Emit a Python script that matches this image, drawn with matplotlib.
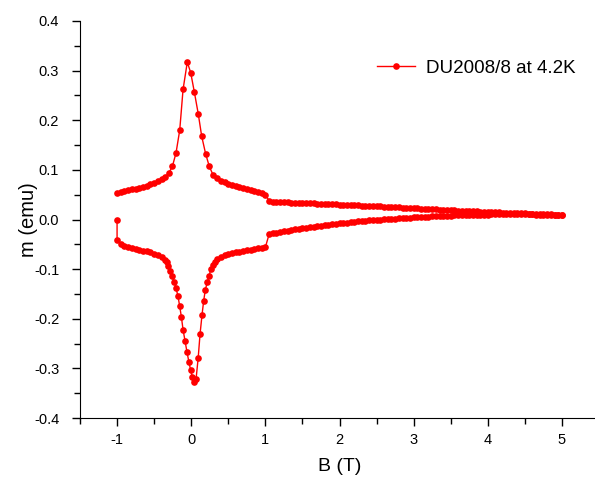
import matplotlib
matplotlib.use('Agg')
import matplotlib.pyplot as plt
from matplotlib.ticker import MultipleLocator, FormatStrFormatter

plt.rcParams['font.family'] = ['Liberation Sans', 'DejaVu Sans']
plt.rcParams['axes.unicode_minus'] = False

# lower branch, sweep -1 T -> 1 T
b_low = [-1.00, -1.00, -0.95, -0.90, -0.85, -0.80, -0.75, -0.70, -0.65, -0.60,
         -0.55, -0.50, -0.45, -0.40, -0.36, -0.33, -0.31, -0.286, -0.26, -0.23,
         -0.205, -0.178, -0.155, -0.133, -0.11, -0.084, -0.057, -0.03, -0.007, 0.015,
         0.04, 0.065, 0.094, 0.119, 0.146, 0.168, 0.19, 0.217, 0.244, 0.263,
         0.29, 0.32, 0.35, 0.40, 0.45, 0.50, 0.55, 0.60, 0.65, 0.70,
         0.75, 0.80, 0.85, 0.90, 0.95, 1.00]
m_low = [0.000, -0.041, -0.050, -0.053, -0.055, -0.057, -0.059, -0.061, -0.0625, -0.064,
         -0.066, -0.069, -0.072, -0.076, -0.081, -0.086, -0.093, -0.103, -0.114, -0.125,
         -0.138, -0.155, -0.175, -0.196, -0.222, -0.244, -0.267, -0.288, -0.304, -0.318,
         -0.328, -0.322, -0.279, -0.231, -0.192, -0.164, -0.142, -0.126, -0.113, -0.099,
         -0.092, -0.085, -0.080, -0.075, -0.072, -0.070, -0.068, -0.066, -0.065, -0.064,
         -0.062, -0.061, -0.060, -0.058, -0.057, -0.056]

# lower branch tail, 1 T -> 5 T
b_low_tail = [1.05, 1.10, 1.15, 1.20, 1.25, 1.30, 1.35, 1.40, 1.45, 1.50,
              1.55, 1.60, 1.65, 1.70, 1.75, 1.80, 1.85, 1.90, 1.95, 2.00,
              2.05, 2.10, 2.15, 2.20, 2.25, 2.30, 2.35, 2.40, 2.45, 2.50,
              2.55, 2.60, 2.65, 2.70, 2.75, 2.80, 2.85, 2.90, 2.95, 3.00,
              3.05, 3.10, 3.15, 3.20, 3.25, 3.30, 3.35, 3.40, 3.45, 3.50,
              3.55, 3.60, 3.65, 3.70, 3.75, 3.80, 3.85, 3.90, 3.95, 4.00,
              4.05, 4.10, 4.15, 4.20, 4.25, 4.30, 4.35, 4.40, 4.45, 4.50,
              4.55, 4.60, 4.65, 4.70, 4.75, 4.80, 4.85, 4.90, 4.95, 5.00]
m_low_tail = [-0.030, -0.028, -0.0265, -0.025, -0.0237, -0.0225, -0.0212, -0.020, -0.0187, -0.0175,
              -0.0164, -0.0153, -0.0142, -0.0132, -0.0122, -0.0113, -0.0104, -0.0095, -0.0086, -0.0078,
              -0.0070, -0.0062, -0.0054, -0.0047, -0.0040, -0.0033, -0.0026, -0.0020, -0.0014, -0.0008,
              -0.0002, 0.0004, 0.0010, 0.0015, 0.0020, 0.0025, 0.0030, 0.0035, 0.0040, 0.0044,
              0.0048, 0.0052, 0.0056, 0.0060, 0.0064, 0.0067, 0.0071, 0.0074, 0.0077, 0.0080,
              0.0083, 0.0086, 0.0088, 0.0090, 0.0092, 0.0094, 0.0096, 0.0097, 0.0099, 0.0100,
              0.0101, 0.0102, 0.0103, 0.0103, 0.0104, 0.0104, 0.0104, 0.0104, 0.0104, 0.0103,
              0.0102, 0.0101, 0.0100, 0.0098, 0.0096, 0.0094, 0.0092, 0.0090, 0.0088, 0.0085]

# upper branch tail, 5 T -> 1 T
b_up_tail = [5.00, 4.95, 4.90, 4.85, 4.80, 4.75, 4.70, 4.65, 4.60, 4.55,
             4.50, 4.45, 4.40, 4.35, 4.30, 4.25, 4.20, 4.15, 4.10, 4.05,
             4.00, 3.95, 3.90, 3.85, 3.80, 3.75, 3.70, 3.65, 3.60, 3.55,
             3.50, 3.45, 3.40, 3.35, 3.30, 3.25, 3.20, 3.15, 3.10, 3.05,
             3.00, 2.95, 2.90, 2.85, 2.80, 2.75, 2.70, 2.65, 2.60, 2.55,
             2.50, 2.45, 2.40, 2.35, 2.30, 2.25, 2.20, 2.15, 2.10, 2.05,
             2.00, 1.95, 1.90, 1.85, 1.80, 1.75, 1.70, 1.65, 1.60, 1.55,
             1.50, 1.45, 1.40, 1.35, 1.30, 1.25, 1.20, 1.15, 1.10, 1.05]
m_up_tail = [0.0095, 0.0098, 0.0100, 0.0103, 0.0106, 0.0109, 0.0112, 0.0114, 0.0117, 0.0120,
             0.0122, 0.0125, 0.0128, 0.0131, 0.0134, 0.0137, 0.0140, 0.0143, 0.0146, 0.0148,
             0.0151, 0.0154, 0.0158, 0.0162, 0.0165, 0.0169, 0.0173, 0.0176, 0.0180, 0.0184,
             0.0188, 0.0192, 0.0196, 0.0200, 0.0204, 0.0208, 0.0212, 0.0216, 0.0220, 0.0224,
             0.0228, 0.0232, 0.0236, 0.0240, 0.0244, 0.0248, 0.0252, 0.0256, 0.0260, 0.0264,
             0.0267, 0.0271, 0.0274, 0.0278, 0.0281, 0.0285, 0.0288, 0.0292, 0.0295, 0.0299,
             0.0302, 0.0305, 0.0308, 0.0311, 0.0314, 0.0317, 0.0320, 0.0323, 0.0326, 0.0329,
             0.0332, 0.0335, 0.0338, 0.0341, 0.0344, 0.0348, 0.0352, 0.0357, 0.0362, 0.0380]

# upper branch, sweep 1 T -> -1 T
b_up = [1.00, 0.95, 0.90, 0.85, 0.80, 0.75, 0.70, 0.65, 0.60, 0.55,
        0.50, 0.45, 0.40, 0.35, 0.294, 0.244, 0.195, 0.141, 0.096, 0.042,
        -0.007, -0.053, -0.11, -0.155, -0.205, -0.254, -0.30, -0.35, -0.40, -0.45,
        -0.50, -0.55, -0.60, -0.65, -0.70, -0.75, -0.80, -0.85, -0.90, -0.95,
        -1.00]
m_up = [0.050, 0.053, 0.055, 0.057, 0.059, 0.061, 0.063, 0.065, 0.067, 0.069,
        0.072, 0.075, 0.078, 0.083, 0.090, 0.107, 0.132, 0.168, 0.212, 0.257,
        0.296, 0.317, 0.262, 0.180, 0.134, 0.107, 0.094, 0.086, 0.081, 0.077,
        0.074, 0.071, 0.068, 0.066, 0.064, 0.062, 0.061, 0.059, 0.057, 0.056,
        0.054]

series_label = 'DU2008/8 at 4.2K'

b_all = b_low + b_low_tail + b_up_tail + b_up
m_all = m_low + m_low_tail + m_up_tail + m_up

fig = plt.figure(figsize=(5.95, 4.79), dpi=100)
ax = fig.add_axes([80/595, 1 - 418/479, 519/595, 397/479])

ax.plot(b_all, m_all, color='#ff0000', linewidth=1.0, marker='o',
        markersize=4.8, markeredgewidth=0, label=series_label)

ax.set_xlim(-1.5, 5.5)
ax.set_ylim(-0.4, 0.4)
ax.xaxis.set_major_locator(MultipleLocator(1))
ax.xaxis.set_minor_locator(MultipleLocator(0.5))
ax.yaxis.set_major_locator(MultipleLocator(0.1))
ax.yaxis.set_minor_locator(MultipleLocator(0.05))
ax.yaxis.set_major_formatter(FormatStrFormatter('%.1f'))

ax.spines['top'].set_visible(False)
ax.spines['right'].set_visible(False)
ax.tick_params(which='major', direction='out', length=6, width=1, labelsize=10.5, pad=5)
ax.tick_params(which='minor', direction='out', length=4, width=1)
ax.tick_params(axis='y', which='major', pad=9)

ax.set_xlabel('B (T)', fontsize=14, labelpad=8)
ax.set_ylabel('m (emu)', fontsize=14.5, labelpad=-3)

ax.legend(loc='upper left', bbox_to_anchor=(0.54, 0.945), frameon=False,
          fontsize=13.5, numpoints=1, handlelength=2.0, handletextpad=0.6)

fig.savefig('out.png', dpi=100)
